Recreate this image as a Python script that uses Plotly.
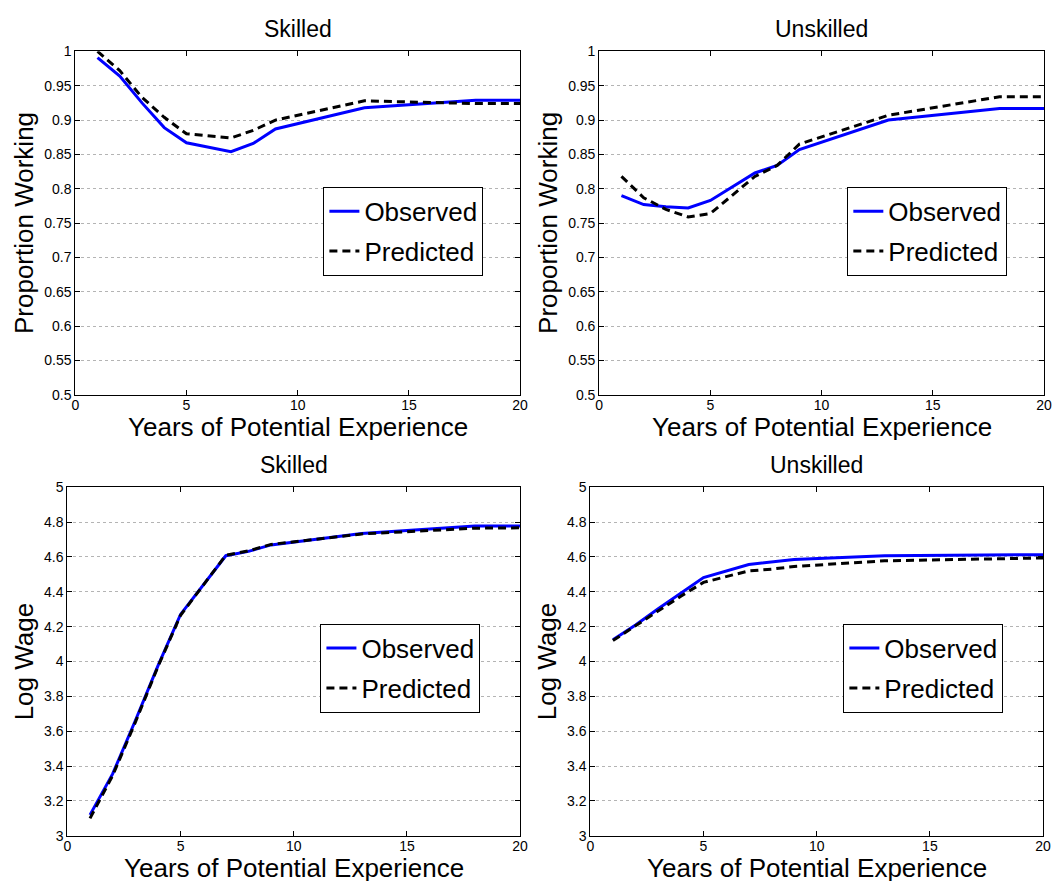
import plotly.graph_objects as go

# ---------------- data ----------------
exp_years = [1, 2, 3, 4, 5, 7, 8, 9, 13, 18, 20]

skilled_work_obs = [0.991, 0.964, 0.925, 0.889, 0.867, 0.854, 0.866, 0.887, 0.918, 0.929, 0.929]
skilled_work_pred = [1.000, 0.972, 0.933, 0.904, 0.880, 0.874, 0.885, 0.900, 0.928, 0.924, 0.924]

unskilled_work_obs = [0.790, 0.777, 0.774, 0.772, 0.783, 0.823, 0.834, 0.857, 0.900, 0.917, 0.917]
unskilled_work_pred = [0.818, 0.787, 0.770, 0.759, 0.764, 0.818, 0.834, 0.865, 0.907, 0.934, 0.934]

skilled_wage_obs = [3.12, 3.355, 3.66, 3.975, 4.27, 4.607, 4.632, 4.669, 4.735, 4.778, 4.778]
skilled_wage_pred = [3.10, 3.345, 3.65, 3.97, 4.265, 4.61, 4.635, 4.672, 4.732, 4.765, 4.767]

unskilled_wage_obs = [4.125, 4.21, 4.303, 4.39, 4.482, 4.557, 4.57, 4.585, 4.607, 4.612, 4.613]
unskilled_wage_pred = [4.12, 4.205, 4.295, 4.375, 4.454, 4.52, 4.53, 4.545, 4.578, 4.59, 4.594]

x_ticks = [0, 5, 10, 15, 20]
x_ticklabels = ["0", "5", "10", "15", "20"]
work_ticks = [0.5, 0.55, 0.6, 0.65, 0.7, 0.75, 0.8, 0.85, 0.9, 0.95, 1.0]
work_ticklabels = ["0.5", "0.55", "0.6", "0.65", "0.7", "0.75", "0.8", "0.85", "0.9", "0.95", "1"]
wage_ticks = [3, 3.2, 3.4, 3.6, 3.8, 4, 4.2, 4.4, 4.6, 4.8, 5]
wage_ticklabels = ["3", "3.2", "3.4", "3.6", "3.8", "4", "4.2", "4.4", "4.6", "4.8", "5"]

titles = ["Skilled", "Unskilled", "Skilled", "Unskilled"]
y_titles = ["Proportion Working", "Proportion Working", "Log Wage", "Log Wage"]
x_title = "Years of Potential Experience"
series_names = ["Observed", "Predicted"]

# ---------------- layout geometry ----------------
# The default page has an 8px body margin, so the figure is 16px smaller than the window
# and all screen-pixel positions below are shifted by OFF.
SW, SH = 1064, 893
OFF = 8
W, H = SW - 2 * OFF, SH - 2 * OFF
FONT = "Liberation Sans, Arial, Helvetica, sans-serif"


def px(x):
    return (x - OFF) / W


def py(y):
    return (H - (y - OFF)) / H


panels = [
    dict(obs=skilled_work_obs, pred=skilled_work_pred, x0=72, x1=522, ytop=44, ybot=394,
         yr=[0.5, 1.0], yt=work_ticks, ytl=work_ticklabels, leg=(323, 182), ytx=20),
    dict(obs=unskilled_work_obs, pred=unskilled_work_pred, x0=602, x1=1052, ytop=44, ybot=394,
         yr=[0.5, 1.0], yt=work_ticks, ytl=work_ticklabels, leg=(853, 182), ytx=550),
    dict(obs=skilled_wage_obs, pred=skilled_wage_pred, x0=64, x1=522, ytop=488, ybot=843,
         yr=[3, 5], yt=wage_ticks, ytl=wage_ticklabels, leg=(320, 627), ytx=20),
    dict(obs=unskilled_wage_obs, pred=unskilled_wage_pred, x0=593, x1=1051, ytop=488, ybot=843,
         yr=[3, 5], yt=wage_ticks, ytl=wage_ticklabels, leg=(849, 627), ytx=549),
]

fig = go.Figure()
annotations = []
layout_axes = {}

for i, p in enumerate(panels):
    k = "" if i == 0 else str(i + 1)
    legname = "legend" if i == 0 else f"legend{i + 1}"
    fig.add_trace(go.Scatter(x=exp_years, y=p["obs"], mode="lines", name=series_names[0],
                             line=dict(color="#0000ff", width=3), legendgroup=f"o{i}",
                             xaxis="x" + k, yaxis="y" + k, legend=legname))
    fig.add_trace(go.Scatter(x=exp_years, y=p["pred"], mode="lines", name=series_names[1],
                             line=dict(color="black", width=3, dash="8px,5px"), legendgroup=f"p{i}",
                             xaxis="x" + k, yaxis="y" + k, legend=legname))

    xd = [px(p["x0"]), px(p["x1"])]
    yd = [py(p["ybot"]), py(p["ytop"])]
    layout_axes["xaxis" + k] = dict(
        domain=xd, anchor="y" + k, range=[0, 20], tickvals=x_ticks, ticktext=x_ticklabels,
        ticks="inside", ticklen=5, tickcolor="black", showline=True, linecolor="black",
        linewidth=1, mirror="ticks", showgrid=False, zeroline=False, ticklabelstandoff=-3,
        tickfont=dict(family=FONT, size=14, color="black"),
    )
    layout_axes["yaxis" + k] = dict(
        domain=yd, anchor="x" + k, range=p["yr"], tickvals=p["yt"], ticktext=p["ytl"],
        ticks="inside", ticklen=5, tickcolor="black", showline=True, linecolor="black",
        linewidth=1, mirror="ticks", showgrid=True, gridcolor="#b4b4b4", griddash="dot",
        gridwidth=1, zeroline=False,
        tickfont=dict(family=FONT, size=14, color="black"),
    )
    layout_axes[legname] = dict(
        x=px(p["leg"][0]), y=py(p["leg"][1]), xanchor="left", yanchor="top",
        bordercolor="black", borderwidth=1, bgcolor="white", itemwidth=30,
        font=dict(family=FONT, size=26, color="black"), tracegroupgap=3,
        traceorder="grouped",
    )

    xc = px((p["x0"] + p["x1"]) / 2)
    # panel title
    annotations.append(dict(text=titles[i], x=xc, y=py(p["ytop"] - 23), xref="paper", yref="paper",
                            xanchor="center", yanchor="middle", showarrow=False,
                            font=dict(family=FONT, size=23, color="black")))
    # x title
    annotations.append(dict(text=x_title, x=xc, y=py(p["ybot"] + 33), xref="paper", yref="paper",
                            xanchor="center", yanchor="middle", showarrow=False, height=26,
                            font=dict(family=FONT, size=26, color="black")))
    # y title
    annotations.append(dict(text=y_titles[i], x=px(p["ytx"]), y=py((p["ytop"] + p["ybot"]) / 2),
                            xref="paper", yref="paper", xanchor="center", yanchor="middle",
                            textangle=-90, showarrow=False,
                            font=dict(family=FONT, size=26, color="black")))

fig.update_layout(
    width=W, height=H, margin=dict(l=0, r=0, t=0, b=0),
    paper_bgcolor="white", plot_bgcolor="white",
    annotations=annotations, showlegend=True,
    **layout_axes,
)

fig.write_html("out.html", config={"displayModeBar": False})
